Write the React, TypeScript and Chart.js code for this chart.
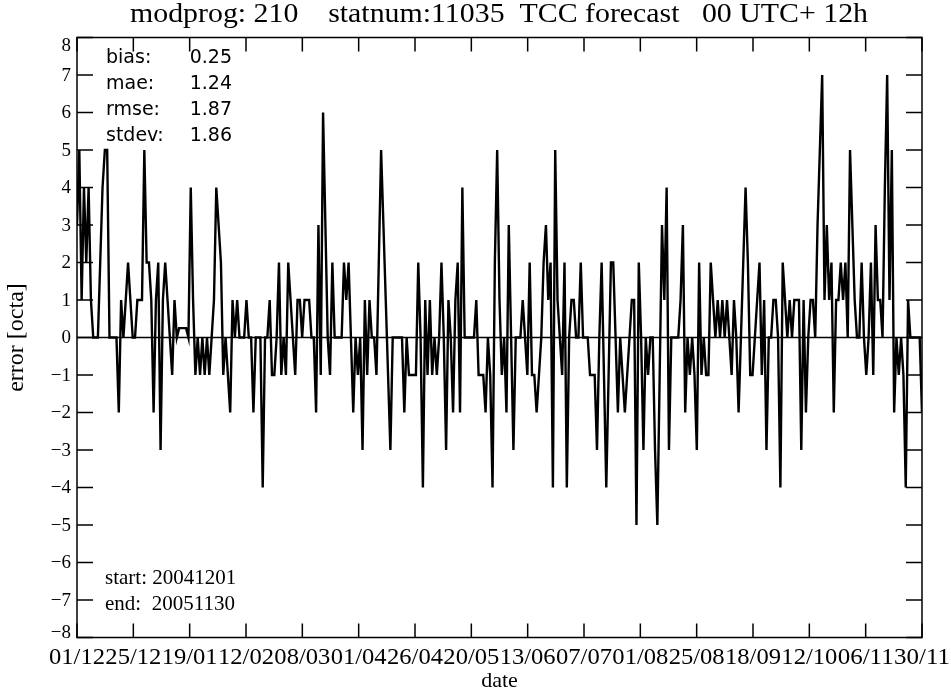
import React, { useEffect, useRef } from "react";
import { Chart, registerables } from "chart.js";

Chart.register(...registerables);

// ---- Chart text ----
const titleText = "modprog: 210    statnum:11035  TCC forecast   00 UTC+ 12h";
const xAxisTitle = "date";
const yAxisTitle = "error [octa]";
const startLabel = "start: 20041201";
const endLabel = "end:  20051130";

// ---- Tick labels ----
const xTickLabels = [
  "01/12", "25/12", "19/01", "12/02", "08/03", "01/04", "26/04", "20/05",
  "13/06", "07/07", "01/08", "25/08", "18/09", "12/10", "06/11", "30/11",
];
const yTickValues = [-8, -7, -6, -5, -4, -3, -2, -1, 0, 1, 2, 3, 4, 5, 6, 7, 8];

// ---- Statistics box ----
const statLabels = ["bias:", "mae:", "rmse:", "stdev:"];
const statValues = ["0.25", "1.24", "1.87", "1.86"];

// ---- Daily forecast error (octa), 2004-12-01 .. 2005-11-30 ----
const errorValues = [
  3, 5, 1, 4, 2, 4, 1, 0, 0, 0,
  2, 4, 5, 5, 0, 0, 0, 0, -2, 1,
  0, 1, 2, 1, 0, 0, 1, 1, 1, 5,
  2, 2, 1, -2, 1, 2, -3, 1, 2, 1,
  0, -1, 1, 0, 0.25, 0.25, 0.25, 0.25, 0, 4,
  1, -1, 0, -1, 0, -1, 0, -1, 0, 1,
  4, 3, 2, -1, 0, -1, -2, 1, 0, 1,
  0, 0, 0, 1, 0, 0, -2, 0, 0, 0,
  -4, 0, 0, 1, -1, -1, 0, 2, -1, 0,
  -1, 2, 1, 0, -1, 1, 1, 0, 1, 1,
  1, 0, 0, -2, 3, -1, 6, 3, 0, -1,
  2, 0, 0, 0, 0, 2, 1, 2, 0, -2,
  0, -1, 0, -3, 1, -1, 1, 0, 0, -1,
  2, 5, 3, 1, -1, -3, 0, 0, 0, 0,
  0, -2, 0, -1, -1, -1, -1, 2, 0, -4,
  1, -1, 1, -1, 0, -1, 0, 2, 0, -3,
  1, 0, -2, 1, 2, -2, 4, 0, 0, 0,
  0, 0, 1, -1, -1, -1, -2, 0, -1, -4,
  2, 5, 1, -1, 0, -2, 3, 0, -3, 0,
  0, 0, 1, 0, -1, 2, -1, -1, -2, -1,
  0, 2, 3, 1, 2, -4, 5, 1, 0, -1,
  2, -4, 0, 1, 1, 0, 0, 2, 0, 0,
  0, -1, -1, -1, -3, 0, 2, -1, -4, -1,
  2, 2, 0, -2, 0, -1, -2, -1, 0, 1,
  1, -5, 2, 0, -3, 0, -1, 0, 0, -3,
  -5, -1, 3, 1, 4, -3, 0, 0, 0, 0,
  1, 3, -2, 0, -1, 0, -1, -3, 2, -1,
  0, -1, -1, 2, 1, 0, 1, 0, 1, 0,
  1, 0, -1, 1, 0, -2, 0, 2, 4, 2,
  -1, -1, 0, 1, 2, -1, 1, -3, 0, 0,
  1, 1, 0, -4, 2, 1, 0, 1, 0, 1,
  1, 1, -3, 1, -2, 0, 1, 1, 0, 3,
  5, 7, 1, 3, 1, 2, -2, 1, 1, 2,
  1, 2, 0, 5, 3, 1, 0, 0, 2, 0,
  -1, 0, 2, -1, 3, 1, 1, 0, 4, 7,
  1, 5, -2, 0, -1, 0, -1, -4, 1, 0,
  0, 0, 0, 0, -2,
];

const W = 951;
const H = 694;
const SERIF = '"Liberation Serif", "Times New Roman", serif';
const SANS = '"DejaVu Sans", sans-serif';

const lastDay = errorValues.length - 1;
const xTickDays = xTickLabels.map((_, i) => (i * lastDay) / (xTickLabels.length - 1));

// draw text centred at (x, y), horizontally stretched to the given width
function fillStretched(ctx: CanvasRenderingContext2D, text: string, x: number, y: number, width: number) {
  const m = ctx.measureText(text).width;
  const sx = m > 0 ? width / m : 1;
  ctx.save();
  ctx.translate(x, y);
  ctx.scale(sx, 1);
  ctx.textAlign = "center";
  ctx.fillText(text, 0, 0);
  ctx.restore();
}

const decorPlugin = {
  id: "idlDecor",
  beforeDatasetsDraw(chart: any) {
    const { ctx, chartArea, scales } = chart;
    const y0 = scales.y.getPixelForValue(0);
    ctx.save();
    ctx.strokeStyle = "#000";
    ctx.lineWidth = 1.6;
    ctx.beginPath();
    ctx.moveTo(chartArea.left, y0);
    ctx.lineTo(chartArea.right, y0);
    ctx.stroke();
    ctx.restore();
  },
  afterDraw(chart: any) {
    const { ctx, chartArea, scales } = chart;
    const { left, right, top, bottom } = chartArea;
    ctx.save();
    ctx.strokeStyle = "#000";
    ctx.fillStyle = "#000";
    ctx.lineWidth = 1.5;
    ctx.strokeRect(left, top, right - left, bottom - top);

    // y ticks (inward, both sides)
    ctx.beginPath();
    yTickValues.forEach((v) => {
      const py = scales.y.getPixelForValue(v);
      ctx.moveTo(left, py);
      ctx.lineTo(left + 16, py);
      ctx.moveTo(right, py);
      ctx.lineTo(right - 16, py);
    });
    // x ticks (inward, top & bottom)
    xTickDays.forEach((d) => {
      const px = scales.x.getPixelForValue(d);
      ctx.moveTo(px, bottom);
      ctx.lineTo(px, bottom - 14);
      ctx.moveTo(px, top);
      ctx.lineTo(px, top + 14);
    });
    ctx.stroke();

    // y tick labels
    ctx.font = "19px " + SERIF;
    ctx.textAlign = "right";
    ctx.textBaseline = "middle";
    yTickValues.forEach((v) => {
      let py = scales.y.getPixelForValue(v);
      py = Math.max(top + 8, Math.min(bottom - 5, py));
      const txt = v < 0 ? "\u2212" + Math.abs(v) : String(v);
      ctx.fillText(txt, left - 6, py + 1);
    });

    // x tick labels
    ctx.font = "23px " + SERIF;
    ctx.textBaseline = "middle";
    xTickDays.forEach((d, i) => {
      const px = scales.x.getPixelForValue(d);
      fillStretched(ctx, xTickLabels[i], px, 658, 56);
    });

    // axis titles
    ctx.textAlign = "center";
    ctx.font = "22px " + SERIF;
    ctx.fillText(xAxisTitle, (left + right) / 2, 681);
    ctx.save();
    ctx.translate(17, (top + bottom) / 2);
    ctx.rotate(-Math.PI / 2);
    ctx.font = "24px " + SERIF;
    ctx.fillText(yAxisTitle, 0, 0);
    ctx.restore();

    // title
    ctx.font = "27px " + SERIF;
    fillStretched(ctx, titleText, 499, 15, 738);

    // stats
    ctx.font = "19px " + SANS;
    ctx.textBaseline = "middle";
    statLabels.forEach((lab, i) => {
      const py = 58 + i * 26;
      ctx.textAlign = "left";
      ctx.fillText(lab, 106, py);
      ctx.textAlign = "right";
      ctx.fillText(statValues[i], 232, py);
    });

    // start / end
    ctx.font = "21px " + SERIF;
    ctx.textAlign = "left";
    ctx.fillText(startLabel, 105, 578);
    ctx.fillText(endLabel, 105, 604);
    ctx.restore();
  },
};

export default function App() {
  const canvasRef = useRef<HTMLCanvasElement | null>(null);

  useEffect(() => {
    const canvas = canvasRef.current;
    if (!canvas) return;
    const points = errorValues.map((v, i) => ({ x: i, y: v }));
    const chart = new Chart(canvas, {
      type: "line",
      data: {
        datasets: [
          {
            data: points,
            borderColor: "#000",
            borderWidth: 2.4,
            pointRadius: 0,
            tension: 0,
            fill: false,
          },
        ],
      },
      options: {
        responsive: false,
        animation: false,
        devicePixelRatio: 1,
        layout: { padding: { top: 37.5, right: 29, left: 0, bottom: 0 } },
        plugins: { legend: { display: false }, tooltip: { enabled: false }, title: { display: false } },
        scales: {
          x: {
            type: "linear",
            min: 0,
            max: lastDay,
            grid: { display: false },
            border: { display: false },
            ticks: { display: false },
            afterFit: (s: any) => {
              s.height = H - 637.5;
            },
          },
          y: {
            min: -8,
            max: 8,
            grid: { display: false },
            border: { display: false },
            ticks: { display: false },
            afterFit: (s: any) => {
              s.width = 77;
            },
          },
        },
      },
      plugins: [decorPlugin],
    });
    return () => chart.destroy();
  }, []);

  return (
    <div style={{ position: "fixed", left: 0, top: 0, width: W, height: H, background: "#fff" }}>
      <canvas ref={canvasRef} width={W} height={H} style={{ width: W, height: H, display: "block" }} />
    </div>
  );
}
